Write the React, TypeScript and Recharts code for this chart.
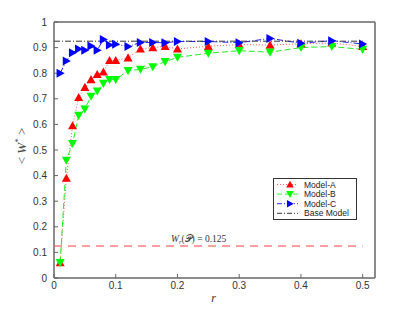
import React from 'react';
import { LineChart, Line, XAxis, YAxis, ReferenceLine, ReferenceArea, Legend, Label } from 'recharts';

const rValues = [0.01, 0.02, 0.03, 0.04, 0.05, 0.06, 0.07, 0.08, 0.09, 0.1, 0.12, 0.14, 0.16, 0.18, 0.2, 0.25, 0.3, 0.35, 0.4, 0.45, 0.5];
const modelA = [0.06, 0.39, 0.595, 0.705, 0.745, 0.775, 0.795, 0.805, 0.85, 0.85, 0.86, 0.895, 0.9, 0.905, 0.895, 0.905, 0.912, 0.91, 0.915, 0.918, 0.905];
const modelB = [0.06, 0.46, 0.525, 0.635, 0.66, 0.71, 0.73, 0.76, 0.775, 0.775, 0.81, 0.815, 0.825, 0.845, 0.862, 0.878, 0.888, 0.882, 0.9, 0.904, 0.893];
const modelC = [0.8, 0.848, 0.88, 0.895, 0.89, 0.906, 0.89, 0.932, 0.91, 0.913, 0.904, 0.92, 0.92, 0.919, 0.924, 0.924, 0.919, 0.936, 0.917, 0.927, 0.914];
const baseModel = 0.925;
const wrValue = 0.125;
const xTicks = [0, 0.1, 0.2, 0.3, 0.4, 0.5];
const yTicks = [0, 0.1, 0.2, 0.3, 0.4, 0.5, 0.6, 0.7, 0.8, 0.9, 1];

const data = rValues.map((r, i) => ({ r, a: modelA[i], b: modelB[i], c: modelC[i] }));

const AXIS = '#666';
const TICK_FONT = { fontFamily: 'Liberation Sans, Arial, sans-serif', fontSize: 10, fill: '#333' };

type Shape = 'up' | 'down' | 'right';

function trianglePath(shape: Shape, cx: number, cy: number, s = 4.5) {
  if (shape === 'up') return `M${cx},${cy - s}L${cx - s},${cy + s * 0.8}L${cx + s},${cy + s * 0.8}Z`;
  if (shape === 'down') return `M${cx},${cy + s}L${cx - s},${cy - s * 0.8}L${cx + s},${cy - s * 0.8}Z`;
  return `M${cx + s},${cy}L${cx - s * 0.8},${cy - s}L${cx - s * 0.8},${cy + s}Z`;
}

const makeDot = (shape: Shape, color: string) => (props: any) => {
  const { cx, cy, index } = props;
  if (cx == null || cy == null) return <g key={index} />;
  return <path key={index} d={trianglePath(shape, cx, cy)} fill={color} stroke="none" />;
};

const legendItems = [
  { name: 'Model-A', color: '#ff0000', line: '#ff6666', dash: '1 2', shape: 'up' as Shape },
  { name: 'Model-B', color: '#00ff00', line: '#33ee33', dash: '5 3', shape: 'down' as Shape },
  { name: 'Model-C', color: '#0000ff', line: '#3333ff', dash: '5 2 1 2', shape: 'right' as Shape },
  { name: 'Base Model', color: '', line: '#333', dash: '5 2 1 2', shape: null },
];

function ChartLegend() {
  return (
    <svg width={84} height={42} style={{ display: 'block' }}>
      <rect x={0.5} y={0.5} width={83} height={41} fill="#fff" stroke="#333" />
      {legendItems.map((it, i) => {
        const y = 6.5 + i * 9.6;
        return (
          <g key={it.name}>
            <line x1={4} x2={25} y1={y} y2={y} stroke={it.line} strokeDasharray={it.dash} />
            {it.shape && <path d={trianglePath(it.shape, 17, y, 3.8)} fill={it.color} />}
            <text x={31} y={y + 3} fontFamily="Liberation Sans, Arial, sans-serif" fontSize={8.5} fill="#222">
              {it.name}
            </text>
          </g>
        );
      })}
    </svg>
  );
}

export default function App() {
  return (
    <div style={{ position: 'absolute', left: 0, top: 0, width: 415, height: 312, background: '#fff' }}>
      <LineChart width={415} height={312} data={data} margin={{ top: 21, right: 39, bottom: 14, left: 24 }}>
        <XAxis
          dataKey="r"
          type="number"
          domain={[0, 0.52]}
          ticks={xTicks}
          tickFormatter={(v) => String(v)}
          height={20}
          tickSize={-4}
          tickMargin={8}
          stroke={AXIS}
          tick={TICK_FONT}
        >
          <Label
            content={(p: any) => {
              const vb = p.viewBox || {};
              return (
                <text x={vb.x + vb.width / 2 - 1} y={302} textAnchor="middle" fontFamily="Liberation Serif, serif" fontStyle="italic" fontSize={12} fill="#333">
                  r
                </text>
              );
            }}
          />
        </XAxis>
        <XAxis xAxisId="top" orientation="top" type="number" domain={[0, 0.52]} ticks={xTicks} height={1} tickSize={-4} tick={false} stroke={AXIS} />
        <YAxis
          type="number"
          domain={[0, 1]}
          ticks={yTicks}
          tickFormatter={(v) => String(v)}
          width={30}
          tickSize={-4}
          tickMargin={11}
          stroke={AXIS}
          tick={TICK_FONT}
          interval={0}
        >
          <Label
            content={() => (
              <text transform="translate(26,146) rotate(-90)" textAnchor="middle" fontFamily="Liberation Serif, serif" fontSize={13} fill="#444">
                {'< '}
                <tspan fontStyle="italic">W</tspan>
                <tspan dy={-5} fontSize={9}>*</tspan>
                <tspan dy={5}>{' >'}</tspan>
              </text>
            )}
          />
        </YAxis>
        <YAxis yAxisId="right" orientation="right" type="number" domain={[0, 1]} ticks={yTicks} width={1} tickSize={-4} tick={false} stroke={AXIS} />
        <ReferenceArea x1={0} x2={0.52} y1={0} y2={1} fill="none" stroke={AXIS} ifOverflow="visible" />
        <ReferenceLine
          segment={[{ x: 0, y: wrValue }, { x: 0.5, y: wrValue }]}
          stroke="#ff7f7f"
          strokeWidth={1.3}
          strokeDasharray="8 6"
          label={(p: any) => {
            const vb = p.viewBox || {};
            return (
              <text x={vb.x + 117} y={(vb.y ?? 246) - 4} fontFamily="Liberation Serif, serif" fontSize={9.5} fill="#333">
                <tspan fontStyle="italic">W</tspan>
                <tspan dy={2} fontSize={6.5} fontStyle="italic">r</tspan>
                <tspan dy={-2}>(𝒫) = 0.125</tspan>
              </text>
            );
          }}
        />
        <Line dataKey="a" name="Model-A" stroke="#ff5555" strokeDasharray="1 2" dot={makeDot('up', '#ff0000')} isAnimationActive={false} />
        <Line dataKey="b" name="Model-B" stroke="#22ee22" strokeDasharray="6 3" dot={makeDot('down', '#00ff00')} isAnimationActive={false} />
        <Line dataKey="c" name="Model-C" stroke="#2222ff" strokeDasharray="6 2 1 2" dot={makeDot('right', '#0000ff')} isAnimationActive={false} />
        <ReferenceLine segment={[{ x: 0, y: baseModel }, { x: 0.5, y: baseModel }]} stroke="#333" strokeDasharray="6 2 1 2" />
        <Legend
          layout="vertical"
          align="center"
          verticalAlign="middle"
          content={() => <ChartLegend />}
          wrapperStyle={{ left: 273, top: 178, width: 84, height: 42 }}
        />
      </LineChart>
    </div>
  );
}
